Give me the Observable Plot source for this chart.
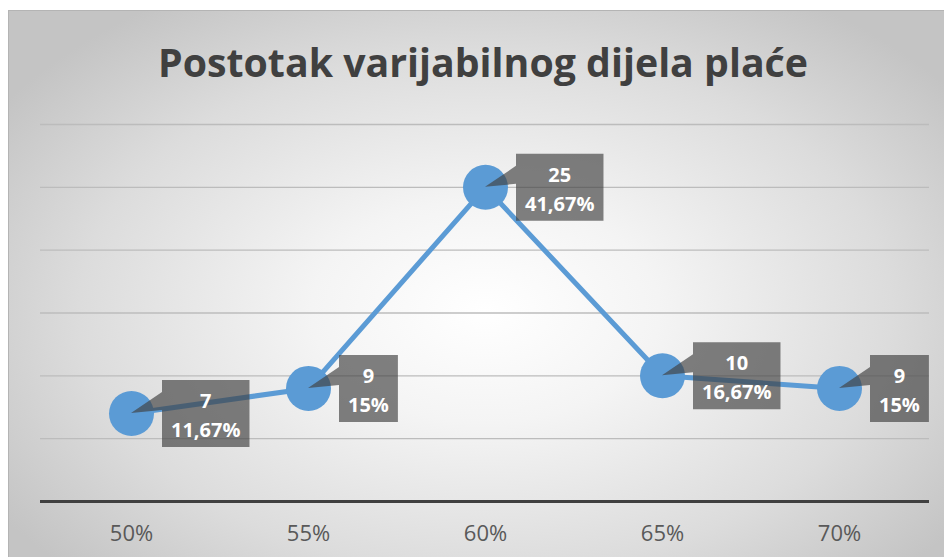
<!DOCTYPE html>
<html><head><meta charset="utf-8">
<script src="https://cdn.jsdelivr.net/npm/d3@7"></script>
<script src="https://cdn.jsdelivr.net/npm/@observablehq/plot@0.6"></script>
<style>
body{margin:0;background:#fff;}
#wrap{position:relative;width:944px;height:557px;overflow:hidden;}
#bg{position:absolute;left:8px;top:10px;width:936px;height:547px;
  background:radial-gradient(ellipse 62% 68% at 51% 55%, #ffffff 0%, #f4f4f4 30%, #dcdcdc 70%, #c4c4c4 100%);
  box-shadow: inset 1px 1px 0 #b4b4b4;}
#title{position:absolute;left:0;top:0;}
#plot{position:absolute;left:0;top:110px;}
</style></head><body>
<div id="wrap">
  <div id="bg"></div>
  <svg id="title" width="944" height="110">
    <text x="483" y="77" text-anchor="middle" textLength="650" lengthAdjust="spacingAndGlyphs"
      font-family="'Open Sans', sans-serif" font-weight="bold" font-size="40" fill="#404040">Postotak varijabilnog dijela plaće</text>
  </svg>
  <div id="plot"></div>
</div>
<script>
const categories = ["50%", "55%", "60%", "65%", "70%"];
const counts = [7, 9, 25, 10, 9];
const shares = ["11,67%", "15%", "41,67%", "16,67%", "15%"];
const yTicks = [5, 10, 15, 20, 25, 30];

const data = categories.map((c, i) => ({cat: c, count: counts[i], share: shares[i]}));

const plot = Plot.plot({
  width: 944, height: 447,
  marginTop: 14, marginBottom: 56, marginLeft: 40, marginRight: 15,
  style: {background: "transparent", fontFamily: "'Open Sans', sans-serif", fontSize: "22px", color: "#595959", overflow: "visible"},
  x: {type: "point", domain: categories, padding: 0.5, label: null, tickSize: 0, tickPadding: 24},
  y: {domain: [0, 30], axis: null},
  marks: [
    Plot.ruleY(yTicks, {stroke: "#bcbcbc", strokeWidth: 1.3}),
    Plot.ruleY([0], {stroke: "#404040", strokeWidth: 3}),
    Plot.line(data, {x: "cat", y: "count", stroke: "#5b9bd5", strokeWidth: 5}),
    Plot.dot(data, {x: "cat", y: "count", r: 22.5, fill: "#5b9bd5"})
  ]
});
document.getElementById("plot").appendChild(plot);

const sx = plot.scale("x"), sy = plot.scale("y");
const layer = d3.select(plot).append("g");
data.forEach(d => {
  const px = sx.apply(d.cat), py = sy.apply(d.count);
  const left = px + 31, top = py - 33, h = 67;
  const g = layer.append("g");
  const path = g.append("path").attr("fill", "#404040").attr("fill-opacity", 0.66);
  const mk = (txt, cy) => g.append("text").text(txt)
    .attr("y", cy).attr("dy", "0.35em")
    .attr("text-anchor", "middle")
    .attr("fill", "#ffffff").attr("font-weight", "bold").attr("font-size", 20)
    .attr("font-family", "'Open Sans', sans-serif");
  const t1 = mk(String(d.count), top + 21);
  const t2 = mk(d.share, top + 50);
  const w = Math.max(t1.node().getComputedTextLength(), t2.node().getComputedTextLength()) + 18;
  t1.attr("x", left + w / 2);
  t2.attr("x", left + w / 2);
  path.attr("d", `M${px},${py}L${left},${top + 12}L${left},${top}L${left + w},${top}L${left + w},${top + h}L${left},${top + h}L${left},${top + 30}Z`);
});
</script>
</body></html>
